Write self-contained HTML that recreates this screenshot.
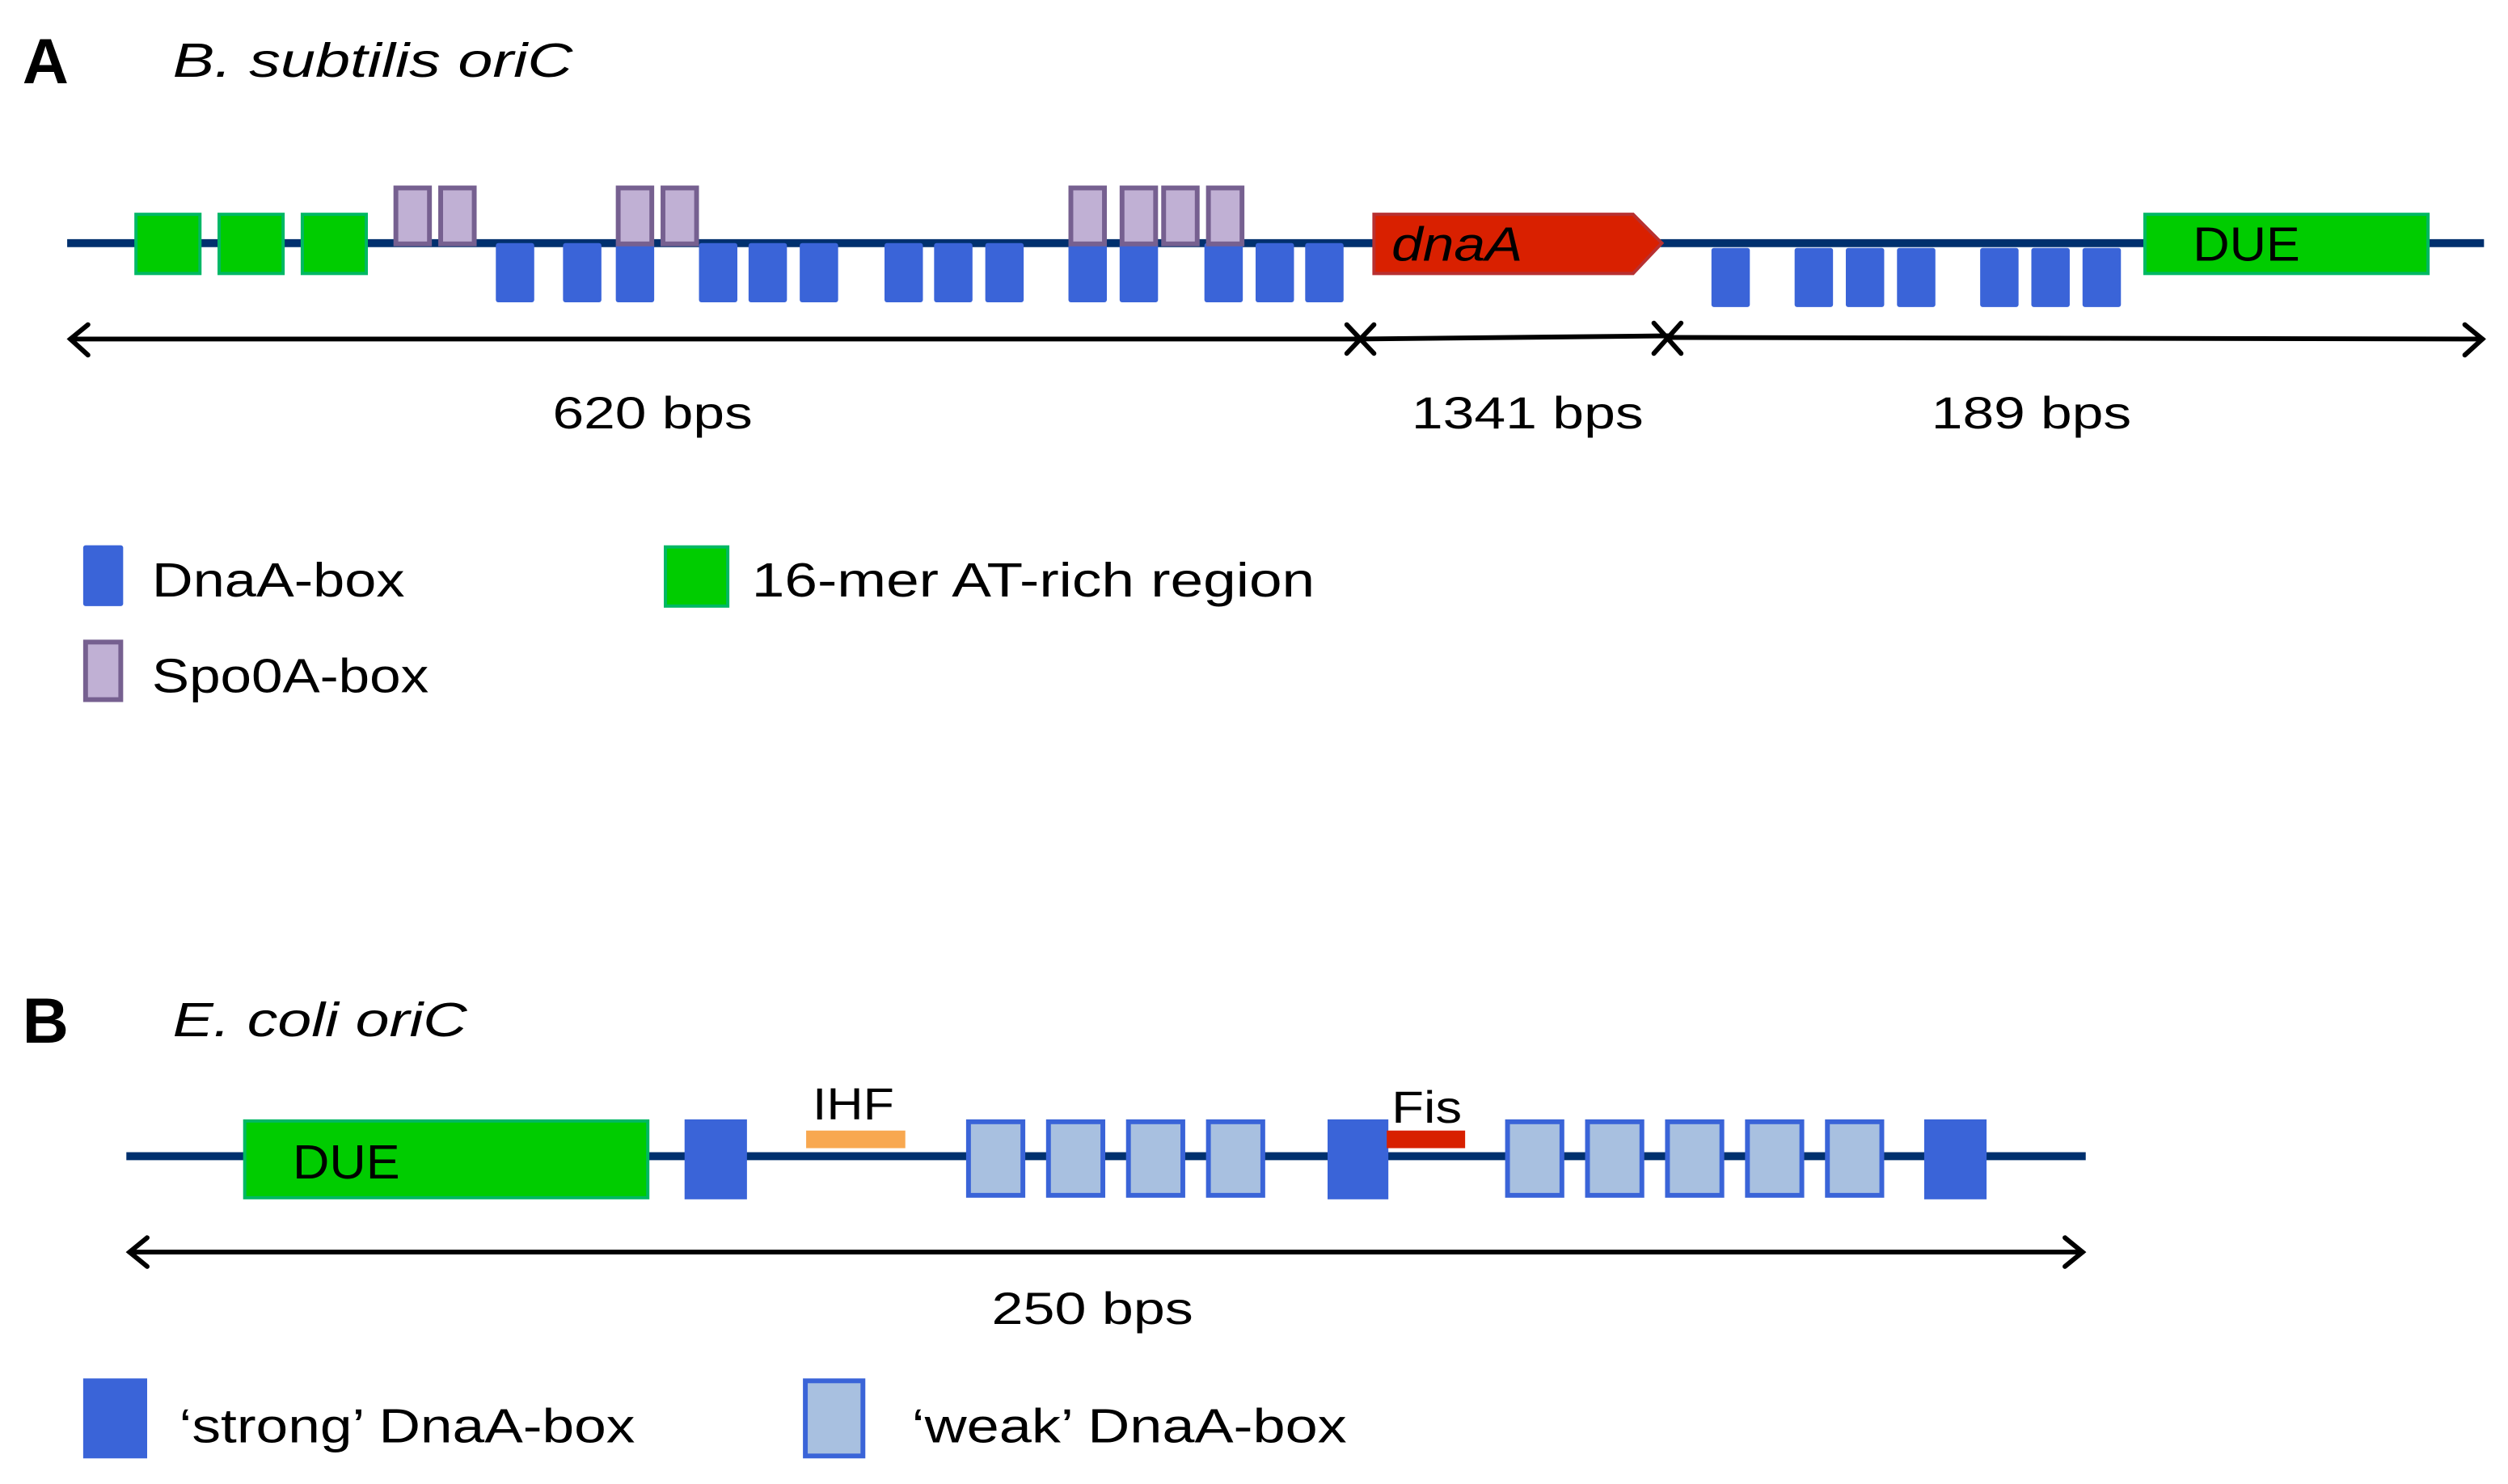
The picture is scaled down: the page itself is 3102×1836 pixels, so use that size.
<!DOCTYPE html>
<html><head><meta charset="utf-8"><style>html,body{margin:0;padding:0;background:#fff}svg{display:block}text{font-family:"Liberation Sans",sans-serif;fill:#000}</style></head>
<body>
<svg width="3102" height="1836" viewBox="0 0 1568 928" xmlns="http://www.w3.org/2000/svg">
<defs>
<g id="b"><rect x="0" y="0" width="24" height="37" rx="1.5" fill="#3a64d8"/></g>
<g id="p"><rect x="1.5" y="1.5" width="21" height="35" fill="#c0b0d4" stroke="#766090" stroke-width="3"/></g>
<g id="w"><rect x="1.5" y="1.5" width="34" height="46" fill="#a8c0e0" stroke="#3a64d8" stroke-width="3"/></g>
</defs>
<!-- Panel A -->
<text x="14" y="52" font-size="40" font-weight="bold">A</text>
<text x="108" y="48" font-size="30" font-style="italic" textLength="250" lengthAdjust="spacingAndGlyphs">B. subtilis oriC</text>
<line x1="42" y1="152" x2="1553" y2="152" stroke="#00306e" stroke-width="5"/>
<g fill="#00cc00" stroke="#00b864" stroke-width="2">
<rect x="85" y="134" width="40" height="37"/><rect x="137" y="134" width="40" height="37"/><rect x="189" y="134" width="40" height="37"/>
</g>
<g>
<use href="#b" x="310" y="152"/><use href="#b" x="352" y="152"/><use href="#b" x="385" y="152"/>
<use href="#b" x="437" y="152"/><use href="#b" x="468" y="152"/><use href="#b" x="500" y="152"/>
<use href="#b" x="553" y="152"/><use href="#b" x="584" y="152"/><use href="#b" x="616" y="152"/>
<use href="#b" x="668" y="152"/><use href="#b" x="700" y="152"/><use href="#b" x="753" y="152"/>
<use href="#b" x="785" y="152"/><use href="#b" x="816" y="152"/>
</g>
<g>
<use href="#p" x="246" y="116"/><use href="#p" x="274" y="116"/>
<use href="#p" x="385" y="116"/><use href="#p" x="413" y="116"/>
<use href="#p" x="668" y="116"/><use href="#p" x="700" y="116"/><use href="#p" x="726" y="116"/><use href="#p" x="754" y="116"/>
</g>
<polygon points="859,134 1021,134 1039,152 1021,171 859,171" fill="#d92000" stroke="#b83030" stroke-width="2"/>
<text x="870" y="163" font-size="30" font-style="italic" textLength="82" lengthAdjust="spacingAndGlyphs">dnaA</text>
<g>
<use href="#b" x="1070" y="155"/><use href="#b" x="1122" y="155"/><use href="#b" x="1154" y="155"/><use href="#b" x="1186" y="155"/>
<use href="#b" x="1238" y="155"/><use href="#b" x="1270" y="155"/><use href="#b" x="1302" y="155"/>
</g>
<rect x="1341" y="134" width="177" height="37" fill="#00cc00" stroke="#00b864" stroke-width="2"/>
<text x="1371" y="163" font-size="30" textLength="67" lengthAdjust="spacingAndGlyphs">DUE</text>
<g stroke="#000" stroke-width="3" fill="none" stroke-linecap="round">
<line x1="44" y1="212" x2="850" y2="212"/>
<line x1="850" y1="212" x2="1043" y2="210"/>
<line x1="1043" y1="211" x2="1552" y2="212"/>
<polyline points="55,203 44,212 55,222"/>
<polyline points="1541,203 1552,212 1541,222"/>
<line x1="842" y1="203" x2="859" y2="221"/><line x1="842" y1="221" x2="859" y2="203"/>
<line x1="1034" y1="202" x2="1051" y2="221"/><line x1="1034" y1="221" x2="1051" y2="202"/>
</g>
<text x="408" y="268" font-size="28" text-anchor="middle" textLength="125" lengthAdjust="spacingAndGlyphs">620 bps</text>
<text x="955" y="268" font-size="28" text-anchor="middle" textLength="145" lengthAdjust="spacingAndGlyphs">1341 bps</text>
<text x="1270" y="268" font-size="28" text-anchor="middle" textLength="125" lengthAdjust="spacingAndGlyphs">189 bps</text>
<rect x="52" y="341" width="25" height="38" rx="1.5" fill="#3a64d8"/>
<text x="95" y="373" font-size="30" textLength="158" lengthAdjust="spacingAndGlyphs">DnaA-box</text>
<rect x="53.5" y="401.5" width="22" height="36" fill="#c0b0d4" stroke="#766090" stroke-width="3"/>
<text x="95" y="433" font-size="30" textLength="173" lengthAdjust="spacingAndGlyphs">Spo0A-box</text>
<rect x="416" y="342" width="39" height="37" fill="#00cc00" stroke="#00b864" stroke-width="2"/>
<text x="470" y="373" font-size="30" textLength="352" lengthAdjust="spacingAndGlyphs">16-mer AT-rich region</text>
<!-- Panel B -->
<text x="14" y="652" font-size="40" font-weight="bold">B</text>
<text x="108" y="648" font-size="30" font-style="italic" textLength="184" lengthAdjust="spacingAndGlyphs">E. coli oriC</text>
<line x1="79" y1="723" x2="1304" y2="723" stroke="#00306e" stroke-width="5"/>
<rect x="153" y="701" width="252" height="48" fill="#00cc00" stroke="#00b864" stroke-width="2"/>
<text x="183" y="737" font-size="30" textLength="67" lengthAdjust="spacingAndGlyphs">DUE</text>
<rect x="428" y="700" width="39" height="50" fill="#3a64d8"/>
<rect x="830" y="700" width="38" height="50" fill="#3a64d8"/>
<rect x="1203" y="700" width="39" height="50" fill="#3a64d8"/>
<rect x="504" y="707" width="62" height="11" fill="#f8a850"/>
<text x="508" y="700" font-size="28" textLength="51" lengthAdjust="spacingAndGlyphs">IHF</text>
<rect x="867" y="707" width="49" height="11" fill="#d82000"/>
<text x="870" y="702" font-size="28" textLength="44" lengthAdjust="spacingAndGlyphs">Fis</text>
<g>
<use href="#w" x="604" y="700"/><use href="#w" x="654" y="700"/><use href="#w" x="704" y="700"/><use href="#w" x="754" y="700"/>
<use href="#w" x="941" y="700"/><use href="#w" x="991" y="700"/><use href="#w" x="1041" y="700"/><use href="#w" x="1091" y="700"/><use href="#w" x="1141" y="700"/>
</g>
<g stroke="#000" stroke-width="3" fill="none" stroke-linecap="round">
<line x1="81" y1="783" x2="1302" y2="783"/>
<polyline points="92,774 81,783 92,792"/>
<polyline points="1291,774 1302,783 1291,792"/>
</g>
<text x="683" y="828" font-size="28" text-anchor="middle" textLength="126" lengthAdjust="spacingAndGlyphs">250 bps</text>
<rect x="52" y="862" width="40" height="50" fill="#3a64d8"/>
<text x="112" y="902" font-size="30" textLength="285" lengthAdjust="spacingAndGlyphs">‘strong’ DnaA-box</text>
<rect x="503.5" y="863.5" width="36" height="47" fill="#a8c0e0" stroke="#3a64d8" stroke-width="3"/>
<text x="570" y="902" font-size="30" textLength="272" lengthAdjust="spacingAndGlyphs">‘weak’ DnaA-box</text>
</svg>
</body></html>
